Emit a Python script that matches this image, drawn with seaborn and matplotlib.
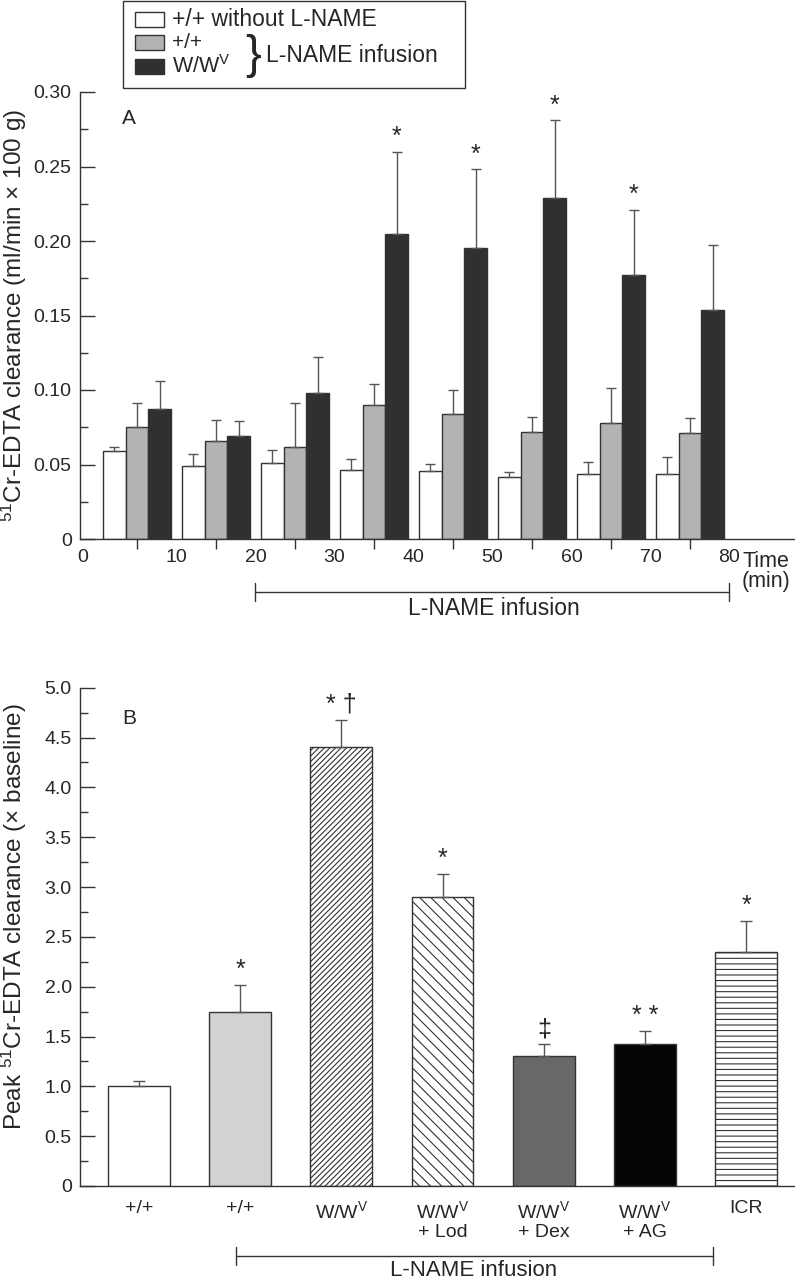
import numpy as np
import pandas as pd
import matplotlib
matplotlib.use('Agg')
import matplotlib.pyplot as plt
import seaborn as sns
from matplotlib.patches import Rectangle

# %%
# panel A: 51Cr-EDTA clearance per 10 min period
time_bins = ['0-10', '10-20', '20-30', '30-40', '40-50', '50-60', '60-70', '70-80']
groups = ['+/+ without L-NAME', '+/+ L-NAME', 'W/Wv L-NAME']
ctrl_mean = [0.059, 0.049, 0.051, 0.046, 0.0455, 0.0415, 0.0435, 0.0435]
ctrl_sem = [0.003, 0.008, 0.009, 0.0075, 0.005, 0.0035, 0.008, 0.0115]
wt_mean = [0.075, 0.066, 0.062, 0.090, 0.084, 0.072, 0.078, 0.071]
wt_sem = [0.016, 0.014, 0.029, 0.014, 0.016, 0.010, 0.0235, 0.010]
mut_mean = [0.087, 0.069, 0.098, 0.205, 0.195, 0.229, 0.177, 0.1535]
mut_sem = [0.019, 0.010, 0.024, 0.055, 0.053, 0.052, 0.044, 0.0435]
mut_sig = ['', '', '', '*', '*', '*', '*', '']
time_labels = ['0', '10', '20', '30', '40', '50', '60', '70', '80']
ytick_a = [0, 0.05, 0.10, 0.15, 0.20, 0.25, 0.30]
ylab_a = ['0', '0.05', '0.10', '0.15', '0.20', '0.25', '0.30']

# panel B: peak clearance (x baseline)
b_ids = ['wt_ctrl', 'wt', 'mut', 'mut_lod', 'mut_dex', 'mut_ag', 'icr']
b_labels = ['+/+', '+/+', 'W/W$^{V}$', 'W/W$^{V}$\n+ Lod', 'W/W$^{V}$\n+ Dex',
            'W/W$^{V}$\n+ AG', 'ICR']
b_mean = [1.00, 1.75, 4.40, 2.90, 1.30, 1.42, 2.35]
b_sem = [0.05, 0.27, 0.28, 0.23, 0.12, 0.14, 0.31]
b_sig = ['', '*', '* \u2020', '*', '\u2021', '* *', '*']
ytick_b = [0, 0.5, 1.0, 1.5, 2.0, 2.5, 3.0, 3.5, 4.0, 4.5, 5.0]
ylab_b = ['0', '0.5', '1.0', '1.5', '2.0', '2.5', '3.0', '3.5', '4.0', '4.5', '5.0']

# %%
sns.set_style('ticks')
plt.rcParams['font.family'] = ['Liberation Sans', 'DejaVu Sans']
plt.rcParams['mathtext.default'] = 'regular'
plt.rcParams['hatch.linewidth'] = 0.8

ink = '#333333'
W, H = 795, 1280
fig = plt.figure(figsize=(W / 100, H / 100), dpi=100)

def px(x, y):
    return x / W, 1 - y / H

# axes in pixel terms
ax_a = fig.add_axes([80 / W, 1 - 539 / H, 715 / W, 447 / H])
ax_b = fig.add_axes([80 / W, 1 - 1186 / H, 715 / W, 498.3 / H])

# %% panel A
df_a = pd.DataFrame({
    'time': time_bins * 3,
    'group': np.repeat(groups, len(time_bins)),
    'value': ctrl_mean + wt_mean + mut_mean,
})
sems_a = [ctrl_sem, wt_sem, mut_sem]
means_a = [ctrl_mean, wt_mean, mut_mean]

sns.barplot(data=df_a, x='time', y='value', hue='group', order=time_bins,
            hue_order=groups, palette=['white', '#b3b3b3', '#303030'],
            saturation=1, width=0.86, edgecolor=ink, linewidth=1,
            errorbar=None, legend=False, ax=ax_a)

for cont, m, s in zip(ax_a.containers, means_a, sems_a):
    xs = [b.get_x() + b.get_width() / 2 for b in cont]
    ax_a.errorbar(xs, m, yerr=[np.zeros(len(m)), s], fmt='none', ecolor='#555555',
                  elinewidth=1, capsize=3.5, capthick=1, zorder=3)

xs_mut = [b.get_x() + b.get_width() / 2 for b in ax_a.containers[2]]
for x, m, s, t in zip(xs_mut, mut_mean, mut_sem, mut_sig):
    if t:
        ax_a.text(x, m + s + 0.005, t, ha='center', va='baseline', fontsize=18)

ax_a.set_xlim(-0.72, 8.33)
ax_a.set_ylim(0, 0.30)
ax_a.set_xticks(range(len(time_bins)))
ax_a.set_xticklabels([])
ax_a.set_xticks([-0.68] + [i + 0.5 for i in range(8)], labels=time_labels, minor=True)
ax_a.set_yticks(ytick_a, labels=ylab_a)
ax_a.set_yticks(np.arange(0.025, 0.30, 0.05), minor=True)
ax_a.tick_params(axis='x', which='major', direction='out', length=7, width=1, color=ink)
ax_a.tick_params(axis='x', which='minor', length=0, pad=7, labelsize=14)
ax_a.tick_params(axis='y', which='major', direction='in', length=11, width=1,
                 color=ink, pad=6, labelsize=14)
ax_a.tick_params(axis='y', which='minor', direction='in', length=6, width=1, color=ink)
ax_a.set_xlabel('')
ax_a.set_ylabel('$^{51}$Cr-EDTA clearance (ml/min \u00d7 100 g)', fontsize=17.5)
ax_a.yaxis.set_label_coords(-0.071, 0.5)
ax_a.text(0.059, 0.94, 'A', transform=ax_a.transAxes, fontsize=15, va='center')
ax_a.text(0.926, -0.072, 'Time\n(min)', transform=ax_a.transAxes, fontsize=15.5,
          ha='left', va='center', linespacing=0.95)

tr = ax_a.get_xaxis_transform()
yb = -0.1186
ax_a.plot([1.5, 7.5], [yb, yb], color=ink, lw=1, transform=tr, clip_on=False)
for xe in [1.5, 7.5]:
    ax_a.plot([xe, xe], [yb - 0.02, yb + 0.02], color=ink, lw=1, transform=tr, clip_on=False)
ax_a.text(4.52, -0.156, 'L-NAME infusion', transform=tr, ha='center', va='center', fontsize=16.5)

# %% panel B
df_b = pd.DataFrame({'id': b_ids, 'value': b_mean})
sns.barplot(data=df_b, x='id', y='value', hue='id', order=b_ids, hue_order=b_ids,
            palette=['white', '#d2d2d2', 'white', 'white', '#686868', '#050505', 'white'],
            saturation=1, width=0.61, edgecolor=ink, linewidth=1,
            errorbar=None, legend=False, ax=ax_b)

hatches = ['', '', '//////', '\\\\\\', '', '', '---']
bars_b = [b for cont in ax_b.containers for b in cont]
for b, h in zip(bars_b, hatches):
    if h:
        b.set_hatch(h)
        b.set_edgecolor(ink)
xs_b = [b.get_x() + b.get_width() / 2 for b in bars_b]
ax_b.errorbar(xs_b, b_mean, yerr=[np.zeros(len(b_mean)), b_sem], fmt='none',
              ecolor='#555555', elinewidth=1, capsize=4, capthick=1, zorder=3)
for x, m, s, t in zip(xs_b, b_mean, b_sem, b_sig):
    if t:
        ax_b.text(x, m + s + 0.08, t, ha='center', va='baseline', fontsize=18)

ax_b.set_xlim(-0.58, 6.48)
ax_b.set_ylim(0, 5.0)
ax_b.set_xticks(range(len(b_ids)), labels=b_labels)
ax_b.set_yticks(ytick_b, labels=ylab_b)
ax_b.set_yticks(np.arange(0.25, 5.0, 0.5), minor=True)
ax_b.tick_params(axis='x', length=0, pad=10, labelsize=14)
ax_b.tick_params(axis='y', which='major', direction='in', length=11, width=1,
                 color=ink, pad=6, labelsize=14)
ax_b.tick_params(axis='y', which='minor', direction='in', length=6, width=1, color=ink)
ax_b.set_xlabel('')
ax_b.set_ylabel('Peak $^{51}$Cr-EDTA clearance (\u00d7 baseline)', fontsize=17.5)
ax_b.yaxis.set_label_coords(-0.071, 0.54)
ax_b.text(0.059, 0.939, 'B', transform=ax_b.transAxes, fontsize=15, va='center')

trb = ax_b.get_xaxis_transform()
yb = -0.1405
ax_b.plot([0.96, 5.67], [yb, yb], color=ink, lw=1, transform=trb, clip_on=False)
for xe in [0.96, 5.67]:
    ax_b.plot([xe, xe], [yb - 0.018, yb + 0.018], color=ink, lw=1, transform=trb, clip_on=False)
ax_b.text(3.31, -0.170, 'L-NAME infusion', transform=trb, ha='center', va='center', fontsize=16)

for ax in [ax_a, ax_b]:
    sns.despine(ax=ax)
    for sp in ['left', 'bottom']:
        ax.spines[sp].set_color(ink)
        ax.spines[sp].set_linewidth(1)

# %% legend box drawn by hand (brace grouping)
x0, y0 = px(123, 88)
fig.add_artist(Rectangle((x0, y0), (465 - 123) / W, 87 / H, transform=fig.transFigure,
                         fill=False, edgecolor=ink, lw=1))
sw_cols = ['white', '#b3b3b3', '#303030']
sw_top = [12, 35, 59]
for c, t in zip(sw_cols, sw_top):
    sx, sy = px(135, t + 15)
    fig.add_artist(Rectangle((sx, sy), 29 / W, 15 / H, transform=fig.transFigure,
                             facecolor=c, edgecolor=ink, lw=1))
fig.text(*px(172, 20), '+/+ without L-NAME', fontsize=16.5, va='center')
fig.text(*px(172, 43), '+/+', fontsize=15, va='center')
fig.text(*px(172, 67), 'W/W$^{V}$', fontsize=15.5, va='center')
fig.text(*px(253, 56), '}', fontsize=34, va='center', ha='center')
fig.text(*px(266, 55), 'L-NAME infusion', fontsize=16.5, va='center')

fig.savefig('out.png', dpi=100)
